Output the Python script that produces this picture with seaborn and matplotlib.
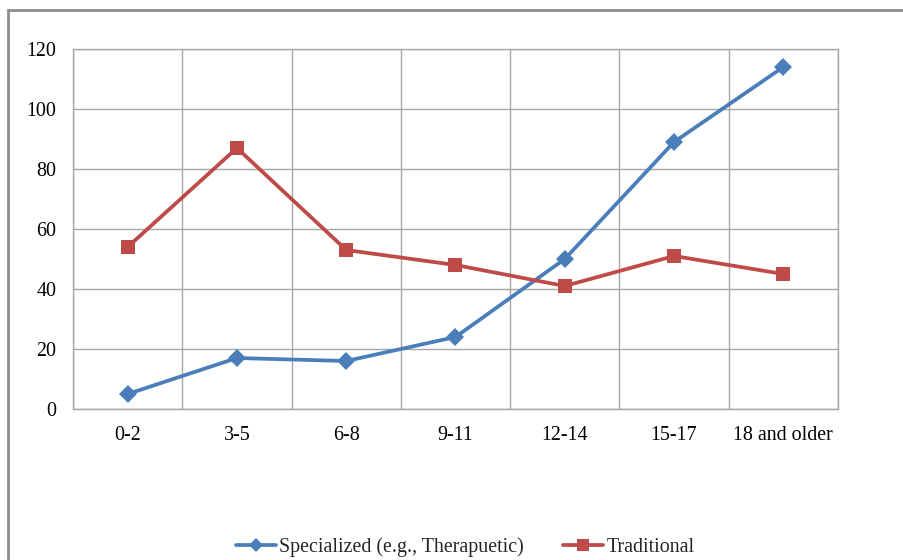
import numpy as np
import pandas as pd
import matplotlib
matplotlib.use("Agg")
import matplotlib.pyplot as plt
from matplotlib.patches import Rectangle
from matplotlib.lines import Line2D
import seaborn as sns

# Data
age_groups = ["0-2", "3-5", "6-8", "9-11", "12-14", "15-17", "18 and older"]
specialized = [5, 17, 16, 24, 50, 89, 114]
traditional = [54, 87, 53, 48, 41, 51, 45]

spec_label = "Specialized (e.g., Therapuetic)"
trad_label = "Traditional"

spec_color = "#4A7EBB"
trad_color = "#BE4B48"
grid_color = "#A6A6A6"

df = pd.DataFrame({
    "age": age_groups * 2,
    "count": specialized + traditional,
    "series": [spec_label] * len(age_groups) + [trad_label] * len(age_groups),
})
df["pos"] = df["age"].map({a: i for i, a in enumerate(age_groups)})

sns.set_style("white")
plt.rcParams["font.family"] = ["Liberation Serif", "DejaVu Serif"]

fig = plt.figure(figsize=(9.04, 5.6), dpi=100)
ax = fig.add_axes([73 / 904, 1 - 409 / 560, (838 - 73) / 904, (409 - 49) / 560])

sns.lineplot(data=df[df.series == spec_label], x="pos", y="count", color=spec_color,
             marker="D", linewidth=2.7, markersize=9, markeredgewidth=0, ax=ax)
sns.lineplot(data=df[df.series == trad_label], x="pos", y="count", color=trad_color,
             marker="s", linewidth=2.7, markersize=10, markeredgewidth=0, ax=ax)

ax.set_xlim(-0.5, len(age_groups) - 0.5)
ax.set_ylim(0, 120)
ax.set_yticks(range(0, 121, 20))
ax.set_xticks(range(len(age_groups)))
ax.set_xticklabels(age_groups)
ax.set_xticks(np.arange(-0.5, len(age_groups), 1.0), minor=True)
fs = 14.4
ax.tick_params(axis="x", which="major", length=0, pad=12, labelsize=fs, colors="black")
ax.tick_params(axis="x", which="minor", length=6, width=1, color=grid_color, direction="out")
ax.tick_params(axis="y", which="major", length=6, width=1, color=grid_color, direction="out",
               pad=6, labelsize=fs, labelcolor="black")
ax.grid(True, axis="y", which="major", color=grid_color, linewidth=1)
ax.grid(True, axis="x", which="minor", color=grid_color, linewidth=1)
ax.grid(False, axis="x", which="major")
for side in ["left", "bottom", "right", "top"]:
    ax.spines[side].set_color(grid_color)
    ax.spines[side].set_linewidth(1)
ax.set_xlabel("")
ax.set_ylabel("")

# legend at the bottom
handles = [
    Line2D([], [], color=spec_color, lw=2.7, marker="D", markersize=7, markeredgewidth=0),
    Line2D([], [], color=trad_color, lw=2.7, marker="s", markersize=8, markeredgewidth=0),
]
fig.legend(handles, [spec_label, trad_label], loc="center", bbox_to_anchor=(465 / 904, 1 - 547 / 560),
           ncol=2, frameon=False, fontsize=fs, handlelength=2.0, handletextpad=0.15,
           columnspacing=2.0)

# chart border like the original, clipped at right and bottom
fig.patches.append(Rectangle((8 / 904, -0.1), 1.2, (560 - 10) / 560 + 0.1,
                             transform=fig.transFigure, fill=False,
                             edgecolor="#8C8C8C", linewidth=2))

fig.savefig("out.png", dpi=100)
